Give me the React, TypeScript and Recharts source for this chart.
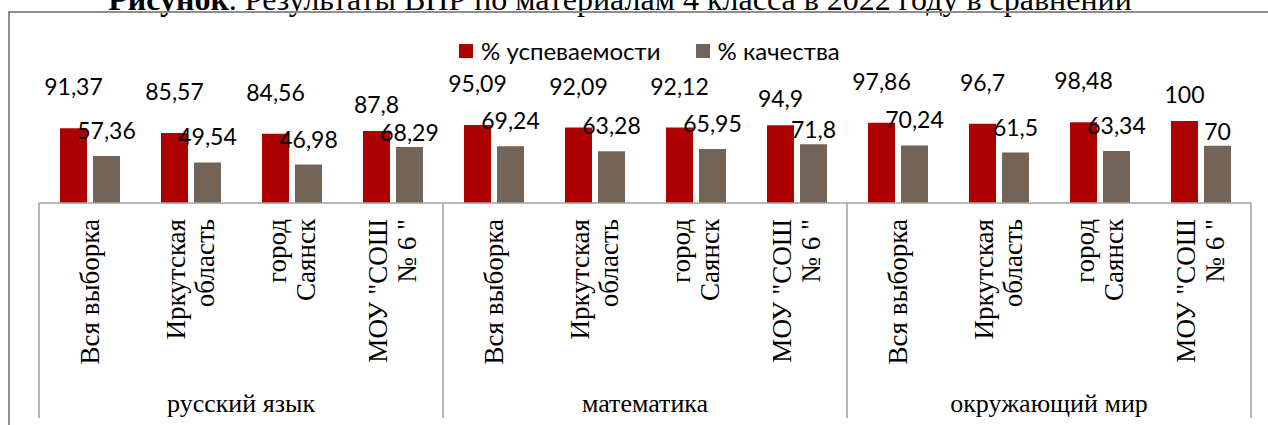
import { BarChart, Bar, XAxis, YAxis, Legend, LabelList } from 'recharts';

const subjects = ['русский язык', 'математика', 'окружающий мир'];
const places = ['Вся выборка', 'Иркутская\nобласть', 'город\nСаянск', 'МОУ "СОШ\n№ 6 "'];
const successRate = [91.37, 85.57, 84.56, 87.8, 95.09, 92.09, 92.12, 94.9, 97.86, 96.7, 98.48, 100];
const qualityRate = [57.36, 49.54, 46.98, 68.29, 69.24, 63.28, 65.95, 71.8, 70.24, 61.5, 63.34, 70];
const seriesNames = ['% успеваемости', '% качества'];
const seriesColors = ['#ad0000', '#746357'];
const titleBold = 'Рисунок';
const titleRest = '. Результаты ВПР по материалам 4 класса в 2022 году в сравнении';

const W = 1268;
const H = 425;
const MARGIN = { top: 104.7, right: 17, bottom: 0, left: 39 };
const PLOT_W = W - MARGIN.left - MARGIN.right;
const CAT_W = PLOT_W / (subjects.length * places.length);
const SERIF = '"Liberation Serif", "Times New Roman", serif';
const SANS = 'Lato, "Noto Sans", sans-serif';
const GRID = '#a0a0a0';

const data = subjects.flatMap((subject, g) =>
  places.map((place, p) => ({
    subject,
    place,
    success: successRate[g * places.length + p],
    quality: qualityRate[g * places.length + p],
  })),
);

const fmt = (v: number) => String(v).replace('.', ',');

function PlaceTick(props: any) {
  const { x, y, payload, index } = props;
  const lines = String(payload.value).split('\n');
  const slot = index % places.length;
  const top = y + 16;
  return (
    <g>
      {slot === 0 && (
        <line x1={x - CAT_W / 2} x2={x - CAT_W / 2} y1={y} y2={y + 215} stroke={GRID} strokeWidth={1.5} />
      )}
      {index === data.length - 1 && (
        <line x1={x + CAT_W / 2} x2={x + CAT_W / 2} y1={y} y2={y + 215} stroke={GRID} strokeWidth={1.5} />
      )}
      {lines.map((line, i) => {
        const lx = x + (i - (lines.length - 1) / 2) * 29;
        return (
          <text
            key={i}
            x={lx}
            y={top}
            transform={`rotate(-90 ${lx} ${top})`}
            textAnchor="end"
            dominantBaseline="central"
            fontFamily={SERIF}
            fontSize={27}
            fill="#000"
          >
            {line}
          </text>
        );
      })}
    </g>
  );
}

function SubjectTick(props: any) {
  const { x, y, payload } = props;
  return (
    <text x={x} y={y + 20} textAnchor="middle" dominantBaseline="central" fontFamily={SERIF} fontSize={26} fill="#000">
      {payload.value}
    </text>
  );
}

// labels were nudged by hand in the original, the last column of each group sits lower
const makeLabel = (lift: number[]) => (props: any) => {
  const { x, y, width, value, index } = props;
  const slot = index % places.length;
  return (
    <text
      x={x + width / 2}
      y={y - lift[slot]}
      textAnchor="middle"
      dominantBaseline="central"
      fontFamily={SANS}
      fontSize={23}
      fill="#000"
    >
      {fmt(value)}
    </text>
  );
};

const renderLegend = () => (
  <div style={{ display: 'flex', alignItems: 'center', fontFamily: SANS, fontSize: 24, color: '#000', whiteSpace: 'nowrap' }}>
    {seriesNames.map((name, i) => (
      <span key={name} style={{ display: 'flex', alignItems: 'center', marginRight: 35 }}>
        <span style={{ width: 14, height: 14, background: seriesColors[i], marginRight: 8 }} />
        {name}
      </span>
    ))}
  </div>
);

export default function App() {
  return (
    <div style={{ position: 'fixed', left: 0, top: 0, width: W, height: H, overflow: 'hidden', background: '#fff' }}>
      <svg width={W} height={30} style={{ position: 'absolute', left: 0, top: 0 }}>
        <text x={620} y={10} textAnchor="middle" fontFamily={SERIF} fontSize={32} fill="#000">
          <tspan fontWeight="bold">{titleBold}</tspan>
          <tspan>{titleRest}</tspan>
        </text>
      </svg>
      <div
        style={{
          position: 'absolute',
          left: 8,
          top: 11,
          width: W + 40,
          height: H + 40,
          border: '2px solid #8e8e8e',
          boxSizing: 'border-box',
        }}
      />
      <div style={{ position: 'absolute', left: 0, top: 0 }}>
        <BarChart width={W} height={H} data={data} margin={MARGIN} barSize={27} barGap={6}>
          <XAxis
            dataKey="place"
            height={180}
            interval={0}
            tickSize={0}
            tickMargin={0}
            tickLine={false}
            axisLine={{ stroke: GRID, strokeWidth: 1.5 }}
            tick={<PlaceTick />}
          />
          <XAxis
            xAxisId="subject"
            dataKey="subject"
            allowDuplicatedCategory={false}
            height={42}
            interval={0}
            tickSize={0}
            tickMargin={0}
            tickLine={false}
            axisLine={false}
            tick={<SubjectTick />}
          />
          <YAxis hide domain={[0, 120]} />
          <Legend
            verticalAlign="middle"
            align="center"
            content={renderLegend}
            wrapperStyle={{ position: 'absolute', top: 36, left: 459, width: 'auto' }}
          />
          <Bar dataKey="success" name={seriesNames[0]} fill={seriesColors[0]} isAnimationActive={false}>
            <LabelList dataKey="success" content={makeLabel([42, 42, 42, 27])} />
          </Bar>
          <Bar dataKey="quality" name={seriesNames[1]} fill={seriesColors[1]} isAnimationActive={false}>
            <LabelList dataKey="quality" content={makeLabel([26, 26, 26, 15])} />
          </Bar>
        </BarChart>
      </div>
    </div>
  );
}
